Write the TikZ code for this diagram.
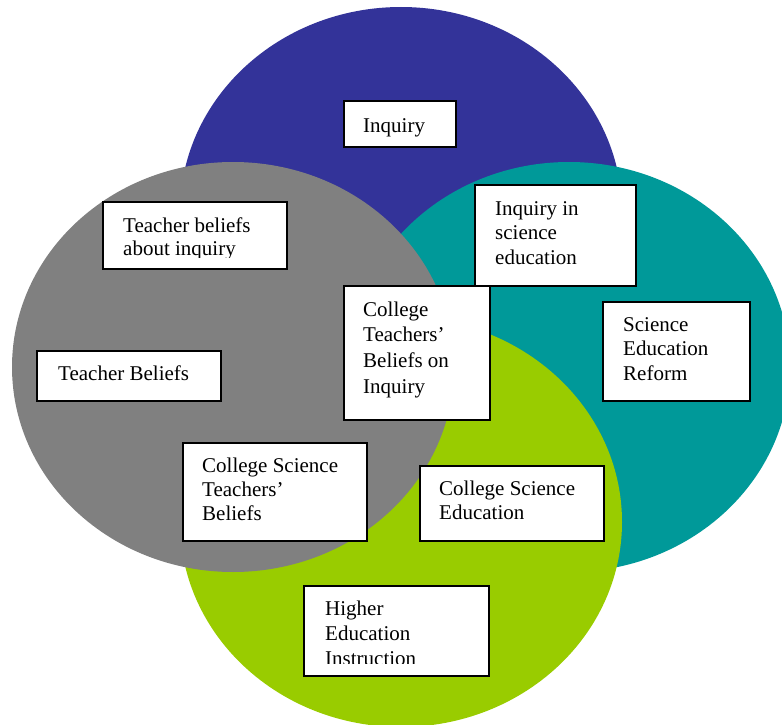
\documentclass[tikz,border=0pt]{standalone}
\usepackage{fontspec}
\setmainfont{Liberation Serif}
\definecolor{cblue}{HTML}{333399}
\definecolor{cteal}{HTML}{009999}
\definecolor{cgreen}{HTML}{99CC00}
\definecolor{cgray}{HTML}{808080}
\newcommand{\boxlines}[2][25]{{\fontsize{21}{#1}\selectfont\begin{tabular}[t]{@{}l@{}}#2\end{tabular}}}
\tikzset{
  tbox/.style={draw=black, fill=white, line width=1.8pt, inner sep=0pt, anchor=north west},
  ttext/.style={anchor=base west, inner sep=0pt, font=\fontsize{21}{25}\selectfont}
}
\begin{document}
\begin{tikzpicture}[x=1pt,y=-1pt]
\useasboundingbox (0,0) rectangle (782,725);
\clip (0,0) rectangle (782,725);
% ellipses (bottom to top)
\fill[cblue]  (401,212) ellipse [x radius=221pt, y radius=205pt];
\fill[cteal]  (569,367) ellipse [x radius=221pt, y radius=205pt];
\fill[cgreen] (401,522) ellipse [x radius=221pt, y radius=205pt];
\fill[cgray]  (233,367) ellipse [x radius=221pt, y radius=205pt];
% boxes
\node[tbox, minimum width=112pt, minimum height=46pt] (inq) at (343,100) {};
\node[ttext] (inqT) at (363,132) {Inquiry};

\node[tbox, minimum width=184pt, minimum height=67pt] (tbi) at (102,201) {};
\begin{scope}
\clip (102,201) rectangle (286,257);
\node[ttext] (tbiT) at (123,232) {\boxlines[23.5]{Teacher beliefs\\about inquiry}};
\end{scope}

\node[tbox, minimum width=161pt, minimum height=101pt] (ise) at (474,184) {};
\node[ttext] (iseT) at (495,215) {\boxlines[24.5]{Inquiry in\\science\\education}};

\node[tbox, minimum width=146pt, minimum height=134pt] (ctb) at (343,285) {};
\node[ttext] (ctbT) at (363,316) {\boxlines[25.7]{College\\Teachers’\\Beliefs on\\Inquiry}};

\node[tbox, minimum width=147pt, minimum height=99pt] (ser) at (602,301) {};
\node[ttext] (serT) at (623,331) {\boxlines[24.5]{Science\\Education\\Reform}};

\node[tbox, minimum width=184pt, minimum height=50pt] (tb) at (36,350) {};
\node[ttext] (tbT) at (58,380) {Teacher Beliefs};

\node[tbox, minimum width=184pt, minimum height=98pt] (cstb) at (182,442) {};
\node[ttext] (cstbT) at (202,472) {\boxlines[24.2]{College Science\\Teachers’\\Beliefs}};

\node[tbox, minimum width=184pt, minimum height=75pt] (cse) at (419,465) {};
\node[ttext] (cseT) at (439,495) {\boxlines[24.2]{College Science\\Education}};

\node[tbox, minimum width=185pt, minimum height=90pt] (hei) at (303,585) {};
\begin{scope}
\clip (303,585) rectangle (488,663);
\node[ttext] (heiT) at (325,615) {\boxlines[25]{Higher\\Education\\Instruction}};
\end{scope}
\end{tikzpicture}
\end{document}
